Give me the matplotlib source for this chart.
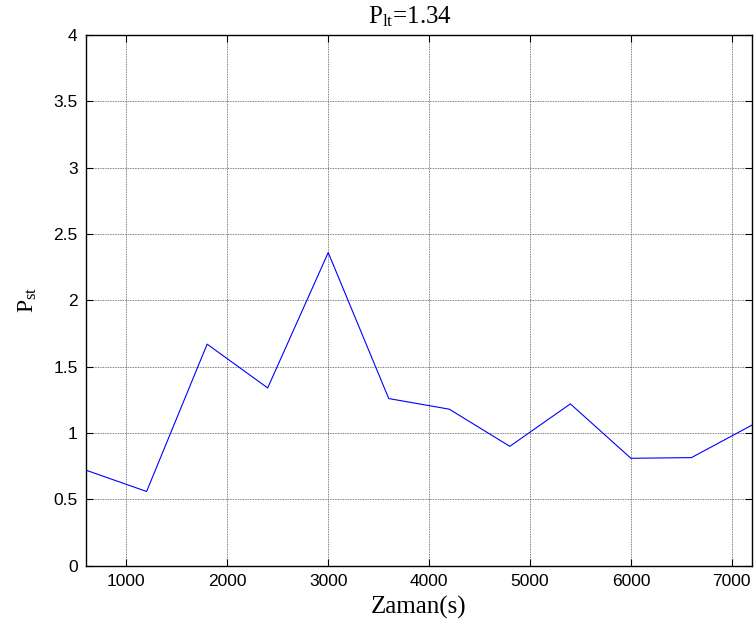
import matplotlib
matplotlib.use('Agg')
import matplotlib.pyplot as plt

# zaman (s) ve Pst degerleri
zaman = [600, 1200, 1800, 2400, 3000, 3600, 4200, 4800, 5400, 6000, 6600, 7200]
pst = [0.72, 0.56, 1.67, 1.34, 2.36, 1.26, 1.18, 0.90, 1.22, 0.81, 0.815, 1.06]
x_ticks = [1000, 2000, 3000, 4000, 5000, 6000, 7000]
y_ticks = [0, 0.5, 1, 1.5, 2, 2.5, 3, 3.5, 4]
y_tick_labels = ['0', '0.5', '1', '1.5', '2', '2.5', '3', '3.5', '4']

plt.rcParams['mathtext.fontset'] = 'custom'
plt.rcParams['mathtext.rm'] = 'Liberation Serif'
plt.rcParams['mathtext.it'] = 'Liberation Serif:italic'

fig = plt.figure(figsize=(7.55, 6.35), dpi=100)
ax = fig.add_axes([0.114, 0.109, 0.882, 0.836])

ax.plot(zaman, pst, color='blue', linewidth=0.8)

ax.set_xlim(600, 7200)
ax.set_ylim(0, 4)
ax.set_xticks(x_ticks)
ax.set_yticks(y_ticks)
ax.set_yticklabels(y_tick_labels)

ax.grid(True, color='#555555', linestyle=(0, (1, 1)), linewidth=0.6)
ax.tick_params(direction='in', length=5, width=0.8, top=True, right=True,
               labelsize=12.5, pad=6)
for lbl in ax.get_xticklabels() + ax.get_yticklabels():
    lbl.set_fontfamily('Liberation Sans')
for sp in ax.spines.values():
    sp.set_linewidth(1.0)

ax.set_xlabel('Zaman(s)', fontfamily='Liberation Serif', fontsize=18, labelpad=5)
ax.set_ylabel(r'$\mathrm{P_{st}}$', fontsize=17, labelpad=10)
ax.set_title(r'$\mathrm{P_{lt}}$=1.34', fontfamily='Liberation Serif', fontsize=18,
             pad=8, x=0.487)

plt.savefig('out.png', dpi=100)
